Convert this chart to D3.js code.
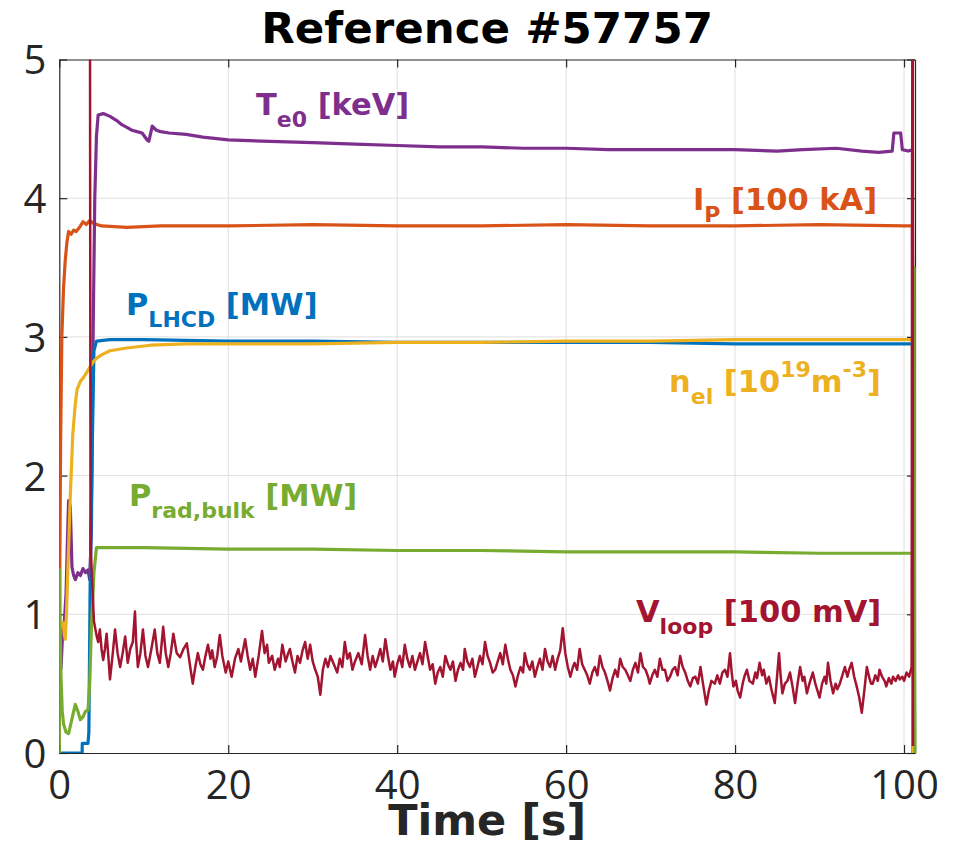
<!DOCTYPE html>
<html><head><meta charset="utf-8">
<script src="https://cdn.jsdelivr.net/npm/d3@7"></script>
<style>body{margin:0;background:#fff}svg{display:block}</style>
</head><body><svg id="c" width="961" height="863"></svg>
<script>
// ---------- data ----------
const xTicks = [0, 20, 40, 60, 80, 100];
const yTicks = [0, 1, 2, 3, 4, 5];
const titleText = "Reference #57757";
const xLabel = "Time [s]";

const ip = [[0,0.6],[0.05,1.2],[0.15,2.2],[0.3,3.0],[0.5,3.35],[0.7,3.55],[0.9,3.68],[1.1,3.76],[1.4,3.74],[1.7,3.77],[2.0,3.76],[2.4,3.79],[2.8,3.83],[3.2,3.81],[3.6,3.84],[4.0,3.82],[5,3.8],[8,3.79],[12,3.8],[20,3.8],[30,3.81],[40,3.8],[50,3.8],[60,3.81],[70,3.8],[80,3.8],[90,3.81],[100,3.8],[101.0,3.8],[101.05,2.0],[101.1,0]];

const te0 = [[0.2,0.6],[0.4,0.88],[0.6,0.95],[0.8,1.15],[0.95,1.5],[1.1,1.82],[1.3,1.78],[1.5,1.34],[1.7,1.28],[1.9,1.25],[2.2,1.3],[2.5,1.28],[2.8,1.33],[3.1,1.3],[3.4,1.32],[3.6,1.25],[3.8,1.6],[4.0,3.0],[4.2,4.0],[4.4,4.45],[4.6,4.6],[5.2,4.61],[6.0,4.59],[6.8,4.56],[7.4,4.53],[8.0,4.51],[8.6,4.49],[9.2,4.48],[9.8,4.47],[10.4,4.42],[10.6,4.41],[11.0,4.52],[11.5,4.49],[12,4.48],[13,4.47],[15,4.46],[17,4.44],[20,4.42],[25,4.41],[30,4.40],[35,4.39],[40,4.38],[45,4.37],[50,4.37],[55,4.36],[60,4.36],[65,4.35],[70,4.35],[75,4.35],[80,4.35],[85,4.34],[88,4.35],[92,4.36],[95,4.34],[97,4.33],[98.6,4.34],[98.8,4.47],[99.6,4.47],[99.8,4.35],[100.5,4.34],[101.0,4.35],[101.05,0]];

const plhcd = [[0,0],[2.7,0],[2.72,0.07],[3.4,0.07],[3.5,0.15],[3.65,1.2],[3.9,2.2],[4.1,2.9],[4.4,2.97],[6,2.98],[10,2.98],[20,2.97],[30,2.97],[40,2.96],[50,2.96],[60,2.96],[70,2.96],[80,2.95],[90,2.95],[100,2.95],[101.0,2.95],[101.05,0]];

const nel = [[0.45,0.95],[0.6,0.85],[0.7,0.82],[0.85,1.0],[1.0,1.3],[1.3,1.85],[1.6,2.3],[1.9,2.52],[2.1,2.62],[2.5,2.68],[2.9,2.71],[3.3,2.75],[3.6,2.78],[4.0,2.82],[4.5,2.85],[5,2.87],[6,2.9],[8,2.92],[10.8,2.94],[15,2.95],[20,2.95],[30,2.95],[40,2.96],[50,2.96],[60,2.97],[70,2.97],[80,2.98],[90,2.98],[100,2.98],[101.0,2.98],[101.05,0]];

const prad = [[0,0],[0.03,1.32],[0.1,0.9],[0.2,0.55],[0.35,0.3],[0.5,0.21],[0.8,0.15],[1.1,0.14],[1.4,0.22],[1.7,0.3],[1.9,0.35],[2.2,0.3],[2.5,0.24],[2.8,0.26],[3.1,0.3],[3.4,0.31],[3.6,0.5],[3.8,0.9],[4.1,1.3],[4.4,1.48],[6,1.48],[10,1.48],[20,1.47],[30,1.47],[40,1.46],[50,1.46],[60,1.45],[70,1.45],[80,1.45],[90,1.44],[100,1.44],[101.1,1.44],[101.2,3.5],[101.25,0.6],[101.3,0]];

const vloop = [[3.62,6],[3.7,1.5],[4.1,0.95],[4.4,0.85],[4.6,0.8],[4.8,0.89],[5.0,0.75],[5.2,0.67],[5.4,0.75],[5.6,0.86],[5.8,0.7],[6.0,0.53],[6.3,0.7],[6.6,0.89],[6.9,0.72],[7.2,0.62],[7.5,0.72],[7.8,0.84],[8.1,0.65],[8.4,0.75],[8.7,0.8],[8.96,1.02],[9.1,0.8],[9.3,0.62],[9.6,0.72],[9.9,0.89],[10.2,0.7],[10.5,0.62],[10.9,0.75],[11.3,0.89],[11.6,0.72],[11.9,0.65],[12.3,0.91],[12.6,0.72],[12.9,0.62],[13.2,0.72],[13.5,0.86],[13.9,0.72],[14.3,0.69],[14.7,0.75],[15.1,0.79],[15.5,0.62],[15.8,0.5],[16.1,0.62],
[16.4,0.72],[16.7,0.64],[17.0,0.6],[17.3,0.7],[17.6,0.78],[17.9,0.68],[18.1,0.74],[18.4,0.62],[18.7,0.7],[19.0,0.85],[19.3,0.7],[19.7,0.58],[20.0,0.66],[20.4,0.55],[20.8,0.68],[21.2,0.75],[21.5,0.66],[22.0,0.82],[22.3,0.7],[22.6,0.6],[22.9,0.68],[23.2,0.55],[23.6,0.7],[24.0,0.88],[24.3,0.72],[24.6,0.78],[24.8,0.65],[25.2,0.7],[25.5,0.6],[25.9,0.68],[26.1,0.62],[26.4,0.78],[26.8,0.66],[27.1,0.72],[27.3,0.75],[27.6,0.66],[27.9,0.58],[28.2,0.7],[28.5,0.65],[28.8,0.74],[29.1,0.8],[29.4,0.68],[29.7,0.78],[30.0,0.66],[30.3,0.6],[30.6,0.55],[30.9,0.42],[31.2,0.6],[31.5,0.68],[31.8,0.62],[32.1,0.7],[32.5,0.64],[32.9,0.58],[33.2,0.68],[33.5,0.62],[33.8,0.8],[34.1,0.68],[34.4,0.72],[34.7,0.6],[35.0,0.66],[35.4,0.72],[35.8,0.64],[36.2,0.85],[36.5,0.7],[36.8,0.6],[37.1,0.7],[37.4,0.62],[37.7,0.68],[38.0,0.75],[38.3,0.66],[38.6,0.82],[38.9,0.7],[39.2,0.6],[39.5,0.66],[39.7,0.55],[40.0,0.64],[40.3,0.7],[40.6,0.62],[40.9,0.78],[41.2,0.68],[41.5,0.62],[41.8,0.7],[42.1,0.6],[42.4,0.66],[42.7,0.72],[43.0,0.64],[43.3,0.8],[43.6,0.7],[43.9,0.6],[44.2,0.64],[44.5,0.5],[44.8,0.58],[45.1,0.62],[45.4,0.55],[45.7,0.7],[46.0,0.64],[46.3,0.6],[46.6,0.66],[46.9,0.52],[47.2,0.6],[47.5,0.65],[47.8,0.6],[48.0,0.75],[48.3,0.66],[48.6,0.62],[48.9,0.68],[49.2,0.55],[49.5,0.62],[49.8,0.7],[50.1,0.64],[50.4,0.8],[50.7,0.7],[51.0,0.65],[51.3,0.58],[51.6,0.6],[51.9,0.66],[52.2,0.72],[52.5,0.64],[52.8,0.78],[53.1,0.68],[53.4,0.6],[53.7,0.56],[54.0,0.48],[54.3,0.56],[54.6,0.62],[54.9,0.58],[55.1,0.72],[55.4,0.64],[55.7,0.6],[56.0,0.66],[56.3,0.55],[56.6,0.62],[56.9,0.68],[57.2,0.6],[57.5,0.75],[57.8,0.66],[58.1,0.62],[58.4,0.7],[58.7,0.6],[59.0,0.68],[59.3,0.74],[59.6,0.9],[59.9,0.72],[60.2,0.62],[60.5,0.55],[60.8,0.62],[61.0,0.65],[61.3,0.6],[61.6,0.75],[61.9,0.64],[62.2,0.6],[62.5,0.56],[62.8,0.5],[63.1,0.58],[63.4,0.62],[63.7,0.56],[64.0,0.7],[64.3,0.62],[64.6,0.58],[64.9,0.52],[65.2,0.45],[65.5,0.54],[65.8,0.6],[66.1,0.55],[66.4,0.68],[66.7,0.62],[67.0,0.6],[67.3,0.56],[67.6,0.52],[67.9,0.6],[68.2,0.65],[68.5,0.58],[68.8,0.72],[69.1,0.62],[69.4,0.6],[69.7,0.55],[69.9,0.5],[70.2,0.56],[70.5,0.6],[70.8,0.55],[71.1,0.68],[71.4,0.6],[71.7,0.6],[72.0,0.52],[72.3,0.55],[72.6,0.6],[72.9,0.62],[73.2,0.56],[73.5,0.7],[73.8,0.62],[74.1,0.58],[74.4,0.52],[74.7,0.48],[75.0,0.54],[75.3,0.55],[75.6,0.5],[75.9,0.62],[76.2,0.5],
[76.6,0.35],[76.9,0.45],[77.2,0.52],[77.6,0.5],[77.9,0.56],[78.2,0.5],[78.5,0.58],[78.8,0.6],[79.1,0.55],[79.4,0.72],[79.6,0.58],[79.8,0.48],[80.1,0.52],[80.3,0.45],[80.6,0.4],[80.9,0.5],[81.1,0.55],[81.4,0.6],[81.7,0.52],[82.1,0.5],[82.4,0.58],[82.6,0.54],[82.9,0.65],[83.2,0.56],[83.4,0.6],[83.7,0.5],[84.0,0.55],[84.3,0.46],[84.7,0.36],[84.9,0.5],[85.2,0.72],[85.4,0.55],[85.6,0.43],[85.9,0.5],[86.2,0.52],[86.5,0.58],[86.8,0.48],[87.1,0.36],[87.4,0.5],[87.7,0.62],[88.0,0.52],[88.2,0.55],[88.5,0.43],[88.8,0.5],[89.2,0.58],[89.5,0.5],[89.7,0.46],[90.0,0.4],[90.3,0.5],[90.6,0.55],[90.8,0.5],[91.0,0.65],[91.3,0.52],[91.6,0.43],[91.9,0.5],[92.1,0.46],[92.4,0.5],[92.7,0.56],[93.0,0.62],[93.3,0.55],[93.5,0.6],[93.8,0.65],[94.1,0.55],[94.4,0.48],[94.7,0.4],[95.0,0.29],[95.3,0.45],[95.6,0.62],[95.9,0.54],[96.1,0.5],[96.3,0.5],[96.6,0.56],[96.9,0.52],[97.1,0.6],[97.4,0.55],[97.7,0.52],[97.9,0.48],[98.2,0.54],[98.5,0.5],[98.7,0.55],[99.0,0.52],[99.3,0.56],[99.5,0.53],[99.8,0.55],[100.0,0.52],[100.3,0.58],[100.6,0.55],[100.9,0.62],[101.0,6],[101.04,6],[101.06,0.05]];

const seriesList = [
  {name:"ip", data:ip, color:"#D95319", w:3.2},
  {name:"te0", data:te0, color:"#7E2F8E", w:3.2},
  {name:"plhcd", data:plhcd, color:"#0072BD", w:3.2},
  {name:"nel", data:nel, color:"#EDB120", w:3.2},
  {name:"prad", data:prad, color:"#77AC30", w:3.2},
  {name:"vloop", data:vloop, color:"#A2142F", w:2.5}
];

// ---------- layout ----------
const L = 59.3, R = 915, T = 59.5, B = 753;
const svg = d3.select("#c");
const x = d3.scaleLinear().domain([0, 101.3]).range([L, R]);
const y = d3.scaleLinear().domain([0, 5]).range([B, T]);
const axisCol = "#262626", gridCol = "#dfdfdf";
const tickFont = "'Open Sans', 'Noto Sans', sans-serif";
const boldFont = "'DejaVu Sans', sans-serif";

// grid
const g = svg.append("g");
g.selectAll(".gx").data(xTicks.filter(d => d > 0)).join("line")
  .attr("x1", d => x(d)).attr("x2", d => x(d)).attr("y1", T).attr("y2", B)
  .attr("stroke", gridCol).attr("stroke-width", 1);
g.selectAll(".gy").data(yTicks.filter(d => d > 0 && d < 5)).join("line")
  .attr("y1", d => y(d)).attr("y2", d => y(d)).attr("x1", L).attr("x2", R)
  .attr("stroke", gridCol).attr("stroke-width", 1);

// axes (inward ticks, box)
const tl = 8;
function styleAxis(sel){
  sel.select(".domain").attr("stroke", axisCol).attr("stroke-width", 1.2);
  sel.selectAll(".tick line").attr("stroke", axisCol).attr("stroke-width", 1.2);
}
const axB = svg.append("g").attr("transform", `translate(0,${B})`)
  .call(d3.axisBottom(x).tickValues(xTicks).tickSizeInner(-tl).tickSizeOuter(0).tickFormat(d3.format("d")));
styleAxis(axB);
axB.selectAll(".tick text").attr("font-family", tickFont).attr("font-size", 40).attr("fill", axisCol)
  .attr("y", 46).attr("dy", 0);
const axT = svg.append("g").attr("transform", `translate(0,${T})`)
  .call(d3.axisTop(x).tickValues(xTicks).tickSizeInner(-tl).tickSizeOuter(0).tickFormat(""));
styleAxis(axT);
const axL = svg.append("g").attr("transform", `translate(${L},0)`)
  .call(d3.axisLeft(y).tickValues(yTicks).tickSizeInner(-tl).tickSizeOuter(0).tickFormat(d3.format("d")));
styleAxis(axL);
axL.selectAll(".tick text").attr("font-family", tickFont).attr("font-size", 40).attr("fill", axisCol)
  .attr("x", -13).attr("dy", "0.36em");
const axR = svg.append("g").attr("transform", `translate(${R},0)`)
  .call(d3.axisRight(y).tickValues(yTicks).tickSizeInner(-tl).tickSizeOuter(0).tickFormat(""));
styleAxis(axR);

// clip
svg.append("clipPath").attr("id", "clip").append("rect")
  .attr("x", L).attr("y", T).attr("width", R - L + 2).attr("height", B - T);

const line = d3.line().x(d => x(d[0])).y(d => y(d[1]));
const lines = svg.append("g").attr("clip-path", "url(#clip)");
lines.selectAll("path").data(seriesList).join("path")
  .attr("d", d => line(d.data)).attr("fill", "none")
  .attr("stroke", d => d.color).attr("stroke-width", d => d.w)
  .attr("stroke-linejoin", "round").attr("stroke-linecap", "butt");

// title & axis label
svg.append("text").attr("x", (L + R) / 2).attr("y", 43).attr("text-anchor", "middle")
  .attr("font-family", boldFont).attr("font-weight", "bold").attr("font-size", 43.5).attr("fill", "#000")
  .text(titleText);
svg.append("text").attr("x", (L + R) / 2).attr("y", 835).attr("text-anchor", "middle")
  .attr("font-family", boldFont).attr("font-weight", "bold").attr("font-size", 43).attr("fill", axisCol)
  .text(xLabel);

// series labels: parts [text, kind] kind: n normal, b sub, p sup
const FS = 30.5, FSS = 22;
const labels = [
  {color:"#7E2F8E", x:256, y:115, parts:[["T","n"],["e0","b"],[" [keV]","n"]]},
  {color:"#D95319", x:693, y:210, parts:[["I","n"],["P","b"],[" [100 kA]","n"]]},
  {color:"#0072BD", x:126, y:315, parts:[["P","n"],["LHCD","b"],[" [MW]","n"]]},
  {color:"#EDB120", x:669, y:392, parts:[["n","n"],["el","b"],[" [10","n"],["19","p"],["m","n"],["-3","p"],["]","n"]]},
  {color:"#77AC30", x:129, y:506, parts:[["P","n"],["rad,bulk","b"],[" [MW]","n"]]},
  {color:"#A2142F", x:636, y:622, parts:[["V","n"],["loop","b"],[" [100 mV]","n"]]}
];
labels.forEach(lb => {
  const t = svg.append("text").attr("x", lb.x).attr("y", lb.y)
    .attr("font-family", boldFont).attr("font-weight", "bold").attr("font-size", FS)
    .attr("fill", lb.color).attr("xml:space", "preserve");
  let cur = 0;
  lb.parts.forEach(([s, k]) => {
    const target = k === "b" ? 12 : (k === "p" ? -15 : 0);
    t.append("tspan").attr("dy", target - cur).attr("font-size", k === "n" ? FS : FSS).text(s);
    cur = target;
  });
});
</script>
</body></html>
